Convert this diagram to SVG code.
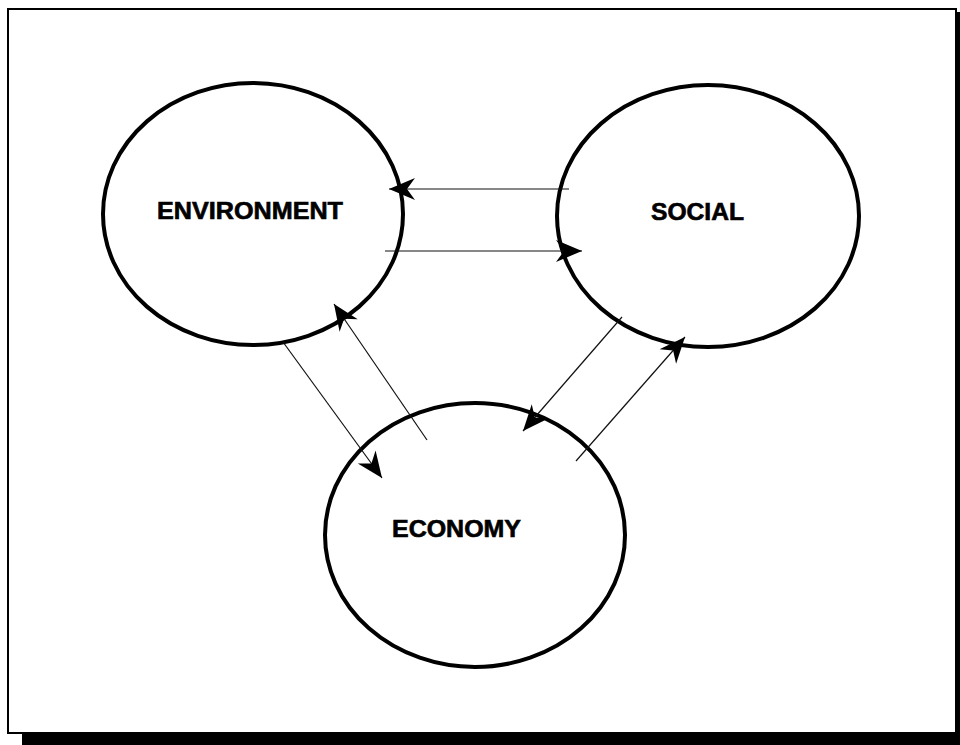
<svg xmlns="http://www.w3.org/2000/svg" width="960" height="745" viewBox="0 0 960 745">
  <style>
    .node ellipse { fill: none; stroke: #000; stroke-width: 4; }
    .node text { font-family: "Liberation Sans", Arial, sans-serif; font-weight: bold; font-size: 23px; fill: #000; stroke: #000; stroke-width: 0.6; }
    .conn line { stroke: #111; stroke-width: 1.2; fill: none; }
  </style>
  <defs>
    <marker id="arr" markerUnits="userSpaceOnUse" markerWidth="32" markerHeight="32" viewBox="-28 -14 32 28" refX="0" refY="0" orient="auto">
      <path d="M0,0 L-26,-11 L-18,0 L-26,11 Z" fill="#000"/>
    </marker>
  </defs>
  <rect x="0" y="0" width="960" height="745" fill="#fff"/>
  <!-- frame with shadow -->
  <rect x="22" y="733" width="938" height="12" fill="#000"/>
  <rect x="955" y="12" width="5" height="733" fill="#000"/>
  <rect x="8" y="9" width="948" height="724" fill="#fff" stroke="#000" stroke-width="2"/>

  <g id="environment" class="node">
    <ellipse cx="253" cy="214" rx="150" ry="131"/>
    <text x="157" y="219" textLength="186" lengthAdjust="spacingAndGlyphs">ENVIRONMENT</text>
  </g>
  <g id="social" class="node">
    <ellipse cx="708" cy="216" rx="151" ry="131"/>
    <text x="651" y="220" textLength="93" lengthAdjust="spacingAndGlyphs">SOCIAL</text>
  </g>
  <g id="economy" class="node">
    <ellipse cx="475" cy="535" rx="150" ry="132"/>
    <text x="392" y="537" textLength="129" lengthAdjust="spacingAndGlyphs">ECONOMY</text>
  </g>

  <g id="connectors" class="conn">
    <line x1="569" y1="189" x2="389" y2="189" marker-end="url(#arr)"/>
    <line x1="385" y1="251" x2="582" y2="251" marker-end="url(#arr)"/>
    <line x1="427" y1="440" x2="334" y2="304" marker-end="url(#arr)"/>
    <line x1="283" y1="342" x2="382" y2="478" marker-end="url(#arr)"/>
    <line x1="622" y1="317" x2="523" y2="431" marker-end="url(#arr)"/>
    <line x1="576" y1="461" x2="685" y2="337" marker-end="url(#arr)"/>
  </g>
</svg>
